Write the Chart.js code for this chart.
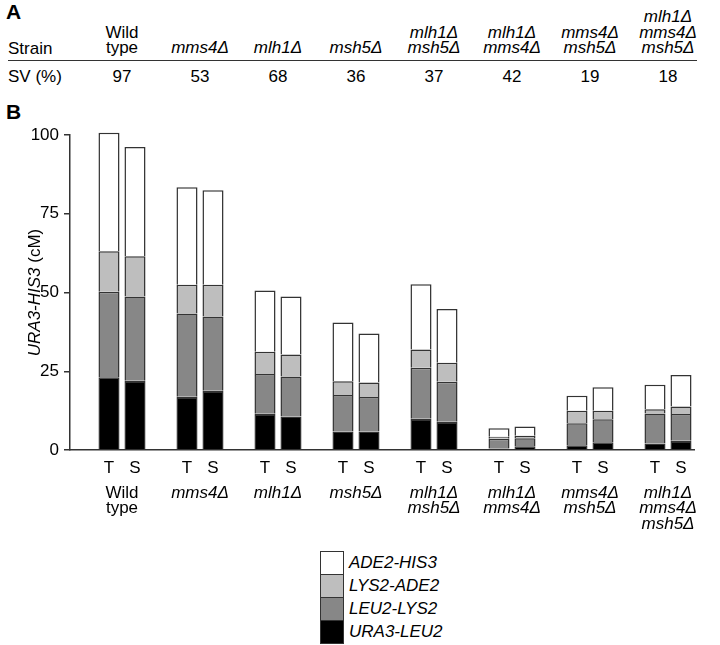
<!DOCTYPE html>
<html>
<head>
<meta charset="utf-8">
<script src="https://cdn.jsdelivr.net/npm/chart.js@4"></script>
<style>
  body { margin: 0; width: 720px; height: 645px; position: relative; background: #fff;
         font-family: 'Liberation Sans', Arial, sans-serif; color: #000; overflow: hidden; }
  .abs { position: absolute; }
  .panel { font-weight: bold; font-size: 21px; }
  .txt { font-size: 17px; line-height: 17px; white-space: nowrap; }
  .it { font-style: italic; }
</style>
</head>
<body>
<div class="abs panel" style="left:6px; top:0px;">A</div>
<div class="abs panel" style="left:6px; top:100px;">B</div>
<div id="tableA"></div>
<div class="abs" style="left:0; top:100px; width:720px; height:440px;">
  <canvas id="grafica" width="720" height="440"></canvas>
</div>
<div id="legend"></div>

<script>
// strains (group labels), italic unless wild type
const strains = [
  ['Wild', 'type'],
  ['mms4Δ'],
  ['mlh1Δ'],
  ['msh5Δ'],
  ['mlh1Δ', 'msh5Δ'],
  ['mlh1Δ', 'mms4Δ'],
  ['mms4Δ', 'msh5Δ'],
  ['mlh1Δ', 'mms4Δ', 'msh5Δ']
];
const svPercent = [97, 53, 68, 36, 37, 42, 19, 18];
const subLabels = ['T', 'S'];

// genetic distances (cM), pairs T,S per strain
const ura3Leu2 = [23.1, 22.0, 16.9, 18.8, 11.5, 10.6, 5.9, 5.9, 9.9, 9.0, 0.5, 1.2, 1.5, 2.5, 2.1, 2.9];
const leu2Lys2 = [27.1, 26.7, 26.4, 23.6, 12.6, 12.7, 11.6, 10.9, 16.2, 12.7, 3.1, 2.5, 7.0, 7.3, 9.5, 8.5];
const lys2Ade2 = [12.9, 12.8, 9.2, 10.1, 7.1, 7.0, 4.3, 4.6, 5.8, 6.0, 0.6, 0.8, 4.0, 2.7, 1.3, 2.4];
const ade2His3 = [37.6, 34.7, 30.9, 30.0, 19.4, 18.4, 18.7, 15.6, 20.7, 17.1, 2.7, 3.0, 4.7, 7.4, 7.8, 10.0];

const yTicks = [0, 25, 50, 75, 100];

const series = [
  { name: 'URA3-LEU2', values: ura3Leu2, color: '#000000' },
  { name: 'LEU2-LYS2', values: leu2Lys2, color: '#878787' },
  { name: 'LYS2-ADE2', values: lys2Ade2, color: '#bebebe' },
  { name: 'ADE2-HIS3', values: ade2His3, color: '#ffffff' }
];

const FONT = "'Liberation Sans', Arial, sans-serif";

// panel A table
const tableA = document.getElementById('tableA');
function addText(html, left, top, cls, extra) {
  const d = document.createElement('div');
  d.className = 'abs txt ' + (cls || '');
  d.style.left = left + 'px';
  d.style.top = top + 'px';
  if (extra) Object.assign(d.style, extra);
  d.innerHTML = html;
  tableA.appendChild(d);
  return d;
}
addText('Strain', 8, 39.5);
addText('SV (%)', 8, 67.6);
const colX = strains.map((s, i) => 122 + i * 78);
strains.forEach((lines, i) => {
  addText(lines.join('<br>'), colX[i] - 45, 0, i === 0 ? '' : 'it',
    { width: '90px', textAlign: 'center', top: 'auto', lineHeight: '15.5px', bottom: (645 - 55.9) + 'px' });
  addText(String(svPercent[i]), colX[i] - 45, 67.6, '', { width: '90px', textAlign: 'center' });
});
const rule = document.createElement('div');
rule.className = 'abs';
Object.assign(rule.style, { left: '8px', top: '60px', width: '689px', height: '0', borderTop: '1.5px solid #333' });
tableA.appendChild(rule);

// legend (top to bottom reversed)
const legend = document.getElementById('legend');
series.slice().reverse().forEach((s, i) => {
  const box = document.createElement('div');
  box.className = 'abs';
  Object.assign(box.style, {
    left: '320px', top: (551 + i * 23) + 'px', width: '22px', height: '22px',
    background: s.color, border: '1.5px solid #333'
  });
  legend.appendChild(box);
  const t = document.createElement('div');
  t.className = 'abs txt it';
  Object.assign(t.style, { left: '349px', top: (554 + i * 23) + 'px' });
  t.textContent = s.name;
  legend.appendChild(t);
});

// x slots: blank, T, S per strain
const slotLabels = [];
strains.forEach(() => slotLabels.push('', subLabels[0], subLabels[1]));
function toSlots(vals) {
  const out = [];
  for (let i = 0; i < strains.length; i++) out.push(null, vals[2 * i], vals[2 * i + 1]);
  return out;
}

const extraText = {
  id: 'extraText',
  afterDraw(chart) {
    const c = chart.ctx;
    const x = chart.scales.x;
    const area = chart.chartArea;
    c.save();
    c.fillStyle = '#000';
    c.textAlign = 'center';
    c.textBaseline = 'alphabetic';
    strains.forEach((lines, i) => {
      const cx = (x.getPixelForValue(3 * i + 1) + x.getPixelForValue(3 * i + 2)) / 2;
      c.font = (i === 0 ? '' : 'italic ') + '17px ' + FONT;
      lines.forEach((ln, j) => c.fillText(ln, cx, 397.5 + j * 15.5));
    });
    // y title, mixed italic
    const midY = (area.top + area.bottom) / 2;
    c.translate(35, midY);
    c.rotate(-Math.PI / 2);
    c.textAlign = 'left';
    c.textBaseline = 'middle';
    const a = 'URA3-HIS3', b = ' (cM)';
    c.font = 'italic 17px ' + FONT;
    const wa = c.measureText(a).width;
    c.font = '17px ' + FONT;
    const wb = c.measureText(b).width;
    const x0 = -(wa + wb) / 2;
    c.font = 'italic 17px ' + FONT;
    c.fillText(a, x0, 0);
    c.font = '17px ' + FONT;
    c.fillText(b, x0 + wa, 0);
    c.restore();
  }
};

new Chart(document.getElementById('grafica'), {
  type: 'bar',
  data: {
    labels: slotLabels,
    datasets: series.map(s => ({
      label: s.name,
      data: toSlots(s.values),
      backgroundColor: s.color,
      borderColor: '#333',
      borderWidth: { top: 1.5, left: 1.5, right: 1.5, bottom: 0 },
      borderSkipped: false,
      barPercentage: 0.81,
      categoryPercentage: 1,
      clip: false
    }))
  },
  options: {
    responsive: false,
    animation: false,
    layout: { padding: { top: 35, right: 26, left: 0, bottom: 0 } },
    scales: {
      x: {
        stacked: true,
        afterFit: s => { s.height = 90; },
        grid: { display: false },
        border: { display: true, color: '#333', width: 1.5 },
        ticks: { color: '#000', font: { size: 17, family: FONT }, padding: 0, maxRotation: 0, autoSkip: false }
      },
      y: {
        stacked: true,
        min: 0,
        max: 100,
        afterFit: s => { s.width = 70; },
        afterBuildTicks: s => { s.ticks = yTicks.map(v => ({ value: v })); },
        grid: { drawOnChartArea: false, drawTicks: true, tickLength: 6, color: '#333', lineWidth: 1.5 },
        border: { display: true, color: '#333', width: 1.5 },
        ticks: { color: '#000', font: { size: 17, family: FONT }, padding: 5 }
      }
    },
    plugins: {
      legend: { display: false },
      tooltip: { enabled: false }
    }
  },
  plugins: [extraText]
});
</script>
</body>
</html>
